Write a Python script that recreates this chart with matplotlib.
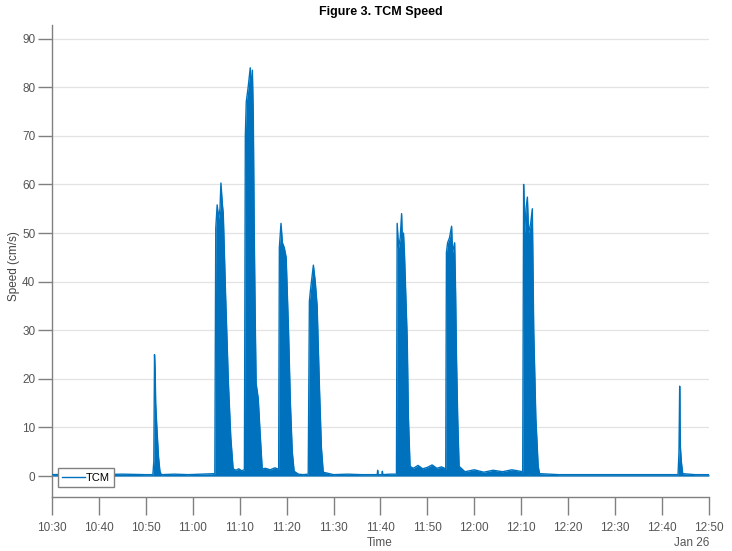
import numpy as np
import pandas as pd
import matplotlib
matplotlib.use('Agg')
import matplotlib.pyplot as plt
import matplotlib.dates as mdates
from matplotlib.lines import Line2D

# minutes after 10:30 on Jan 26, speed in cm/s (upper envelope)
seg_a_t = [0, 5, 10, 15, 20, 21.5]
seg_a_v = [0.3, 0.4, 0.3, 0.4, 0.3, 0.3]
spike1_t = [21.7, 21.85, 22.0, 22.1, 22.35, 22.7, 23.0, 23.3]
spike1_v = [3, 25, 21, 15, 10, 4, 1.0, 0.3]
seg_b_t = [26, 29, 32, 34.7]
seg_b_v = [0.4, 0.3, 0.4, 0.5]
burst2_t = [34.9, 35.2, 35.5, 35.8, 36.0, 36.3, 36.5, 37.0, 37.6, 38.1, 38.6]
burst2_v = [51, 55.8, 53, 55, 60.3, 56, 54, 37, 19, 8, 1.5]
seg_c_t = [39.2, 39.8, 40.4, 41.0]
seg_c_v = [1.2, 1.5, 1.1, 1.3]
burst3_t = [41.2, 41.4, 41.8, 42.25, 42.45, 42.7, 42.9, 43.1, 43.3, 43.5, 43.95, 44.4, 44.8]
burst3_v = [70, 77, 80, 84, 79, 83.5, 74, 50, 33, 19, 16, 8, 1.5]
seg_d_t = [45.5, 46.5, 47.5, 48.3]
seg_d_v = [1.6, 1.3, 1.7, 1.4]
burst4_t = [48.45, 48.8, 49.1, 49.5, 49.9, 50.4, 50.8, 51.2, 51.6]
burst4_v = [47, 52, 48, 47, 45, 30, 15, 5, 1]
seg_e_t = [52.5, 53.5, 54.6]
seg_e_v = [0.4, 0.3, 0.4]
burst5_t = [54.85, 55.05, 55.4, 55.7, 56.1, 56.5, 57.0, 57.4, 57.8]
burst5_v = [36, 38, 41, 43.4, 40, 35, 18, 6, 0.8]
seg_f_t = [60, 63, 66, 69.3, 69.4, 69.5, 70.3, 70.4, 70.5, 72, 73.4]
seg_f_v = [0.3, 0.4, 0.3, 0.3, 1.2, 0.3, 0.3, 1.0, 0.3, 0.4, 0.4]
burst6_t = [73.55, 73.85, 74.2, 74.5, 74.7, 74.9, 75.1, 75.3, 75.7, 75.95, 76.3]
burst6_v = [52, 47, 49, 54, 47, 50, 46, 40, 28, 12, 2]
seg_g_t = [77, 78, 79, 80, 81, 82, 83, 83.9]
seg_g_v = [1.6, 2.2, 1.5, 1.8, 2.3, 1.6, 1.9, 1.5]
burst7_t = [84.05, 84.3, 84.7, 85.15, 85.35, 85.8, 86.0, 86.2, 86.45, 86.75]
burst7_v = [46, 48, 49, 51.4, 46, 48, 38, 24, 12, 2]
seg_h_t = [88, 90, 92, 94, 96, 98, 100.3]
seg_h_v = [0.9, 1.3, 0.8, 1.2, 0.9, 1.3, 0.9]
burst8_t = [100.5, 100.7, 101.0, 101.3, 101.55, 102.0, 102.35, 102.65, 103.1, 103.6, 103.9]
burst8_v = [60, 50, 55, 57.4, 50, 52, 55, 30, 12, 2, 0.5]
seg_i_t = [108, 115, 122, 130, 133.4]
seg_i_v = [0.3, 0.3, 0.3, 0.3, 0.3]
spike9_t = [133.6, 133.75, 133.9, 134.1, 134.4]
spike9_v = [5, 18.5, 6, 3, 0.5]
seg_j_t = [137, 140]
seg_j_v = [0.3, 0.3]

y_ticks = [0, 10, 20, 30, 40, 50, 60, 70, 80, 90]

BLUE = '#0072BD'
GREY = '#808080'
FONT = ['Liberation Sans', 'DejaVu Sans']

minutes = np.concatenate([seg_a_t, spike1_t, seg_b_t, burst2_t, seg_c_t, burst3_t,
                          seg_d_t, burst4_t, seg_e_t, burst5_t, seg_f_t, burst6_t,
                          seg_g_t, burst7_t, seg_h_t, burst8_t, seg_i_t, spike9_t, seg_j_t])
speed = np.concatenate([seg_a_v, spike1_v, seg_b_v, burst2_v, seg_c_v, burst3_v,
                        seg_d_v, burst4_v, seg_e_v, burst5_v, seg_f_v, burst6_v,
                        seg_g_v, burst7_v, seg_h_v, burst8_v, seg_i_v, spike9_v, seg_j_v])

start = pd.Timestamp('2018-01-26 10:30')
times = (start + pd.to_timedelta(minutes, unit='min')).to_pydatetime()

fig = plt.figure(figsize=(7.32, 5.51), dpi=100)
ax = fig.add_axes([0.0710, 0.098, 0.8976, 0.8566])

ax.fill_between(times, 0, speed, color=BLUE, lw=0, zorder=2)
ax.plot(times, speed, color=BLUE, lw=1.0, zorder=3)

ax.set_ylim(-4.3, 92.8)
ax.set_xlim(start.to_pydatetime(), (start + pd.Timedelta(minutes=140)).to_pydatetime())
ax.set_yticks(y_ticks)
ax.xaxis.set_major_locator(mdates.MinuteLocator(byminute=range(0, 60, 10)))
ax.xaxis.set_major_formatter(mdates.DateFormatter('%H:%M'))
ax.grid(axis='y', color='#e3e3e3', lw=0.9, zorder=0)
ax.grid(axis='x', visible=False)

for s in ['top', 'right']:
    ax.spines[s].set_visible(False)
for s in ['left', 'bottom']:
    ax.spines[s].set_color(GREY)
    ax.spines[s].set_linewidth(1.0)

ax.tick_params(axis='x', direction='out', length=13, width=1, color=GREY, pad=5,
               labelsize=8.5, labelcolor='#555555')
ax.tick_params(axis='y', direction='out', length=10, width=1, color=GREY, pad=2,
               labelsize=8.5, labelcolor='#555555')
for lab in ax.get_xticklabels() + ax.get_yticklabels():
    lab.set_family(FONT)

ax.set_title('Figure 3. TCM Speed', fontsize=9, fontweight='bold', family=FONT, pad=7)
fig.text(14 / 732, 1 - 266 / 551, 'Speed (cm/s)', rotation=90, ha='center', va='center',
         fontsize=8.5, color='#444444', family=FONT)
fig.text(0.519, 1 - 543 / 551, 'Time', ha='center', va='center', fontsize=8.5,
         color='#555555', family=FONT)
fig.text(0.969, 1 - 543 / 551, 'Jan 26', ha='right', va='center', fontsize=8.5,
         color='#555555', family=FONT)

handle = Line2D([], [], color=BLUE, lw=1.0)
leg = ax.legend([handle], ['TCM'], loc='lower left', bbox_to_anchor=(0.009, 0.021),
                borderaxespad=0, fancybox=False, framealpha=1, edgecolor=GREY,
                handlelength=2.0, handletextpad=0.1, borderpad=0.4,
                prop={'family': FONT, 'size': 8})
leg.get_frame().set_linewidth(1.0)

plt.savefig('out.png', dpi=100)
